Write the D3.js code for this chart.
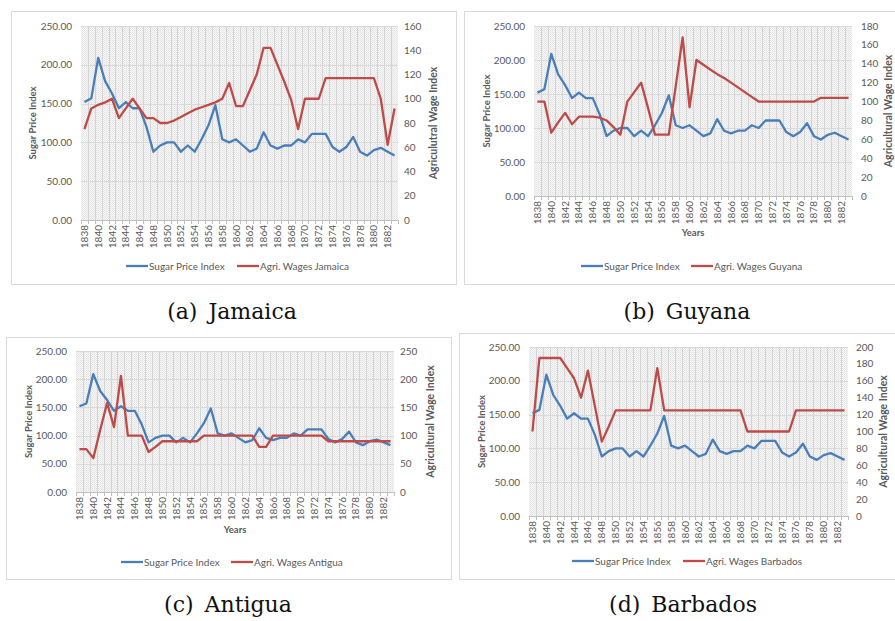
<!DOCTYPE html>
<html lang="en">
<head>
    <meta charset="UTF-8">
    <title>Sugar Price Index and Agricultural Wages</title>
    <script src="https://d3js.org/d3.v7.min.js"></script>
    <style>
        body {
            margin: 0;
            background: white;
        }

        .tick-label {
            font-family: Lato, sans-serif;
            font-size: 10px;
            fill: #595959;
        }

        .axis-title {
            font-family: Lato, sans-serif;
            font-size: 9.5px;
            font-weight: bold;
            fill: #595959;
        }

        .legend-label {
            font-family: Lato, sans-serif;
            font-size: 10px;
            fill: #595959;
        }

        .caption {
            font-family: "DejaVu Serif", serif;
            font-size: 22px;
            word-spacing: 4px;
            fill: #111;
        }
    </style>
</head>
<body>
    <div id="chart"></div>

    <script>
        // Years on the category axis
        const years = [1838, 1839, 1840, 1841, 1842, 1843, 1844, 1845, 1846, 1847,
            1848, 1849, 1850, 1851, 1852, 1853, 1854, 1855, 1856, 1857,
            1858, 1859, 1860, 1861, 1862, 1863, 1864, 1865, 1866, 1867,
            1868, 1869, 1870, 1871, 1872, 1873, 1874, 1875, 1876, 1877,
            1878, 1879, 1880, 1881, 1882, 1883];

        // Sugar price index (same series in every panel)
        const sugarIndex = [152, 157, 209, 179, 163, 144, 152, 144, 144, 120,
            88, 96, 100, 100, 88, 96, 88, 104, 122, 148,
            104, 100, 104, 96, 88, 92, 113, 96, 92, 96,
            96, 104, 100, 111, 111, 111, 94, 88, 94, 107,
            88, 83, 90, 93, 88, 83];

        const wagesJamaica = [75, 92, 95, 97, 100, 84, 92, 100, 92, 84,
            84, 80, 80, 82, 85, 88, 91, 93, 95, 97,
            100, 113, 94, 94, 107, 120, 142, 142, 128, 114,
            99, 75, 100, 100, 100, 117, 117, 117, 117, 117,
            117, 117, 117, 100, 62, 92];

        const wagesGuyana = [100, 100, 67, 78, 88, 76, 84, 84, 84, 83,
            80, 73, 65, 100, 110, 120, 93, 65, 65, 65,
            116, 168, 94, 144, 139, 134, 129, 125, 120, 115,
            110, 105, 100, 100, 100, 100, 100, 100, 100, 100,
            100, 104, 104, 104, 104, 104];

        const wagesAntigua = [76, 76, 60, 110, 158, 115, 206, 100, 100, 100,
            71, 80, 90, 90, 90, 90, 90, 90, 100, 100,
            100, 100, 100, 100, 100, 100, 80, 80, 100, 100,
            100, 100, 100, 100, 100, 100, 90, 90, 90, 90,
            90, 90, 90, 90, 90, 90];

        const wagesBarbados = [100, 187, 187, 187, 187, 175, 163, 140, 172, 130,
            88, 106, 125, 125, 125, 125, 125, 125, 175, 125,
            125, 125, 125, 125, 125, 125, 125, 125, 125, 125,
            125, 100, 100, 100, 100, 100, 100, 100, 125, 125,
            125, 125, 125, 125, 125, 125];

        const leftTicks = [0, 50, 100, 150, 200, 250];

        const blue = '#4a7ebb';
        const red = '#be4b48';
        const gridColor = '#d9d9d9';

        const svg = d3.select('#chart')
            .append('svg')
            .attr('width', 895)
            .attr('height', 621);

        svg.append('rect').attr('width', 895).attr('height', 621).attr('fill', 'white');

        // fine dotted fill used by the plot areas
        const pattern = svg.append('defs')
            .append('pattern')
            .attr('id', 'dots')
            .attr('width', 2)
            .attr('height', 2)
            .attr('patternUnits', 'userSpaceOnUse');
        pattern.append('rect').attr('width', 2).attr('height', 2).attr('fill', '#f8f8f8');
        pattern.append('rect').attr('width', 1).attr('height', 1).attr('fill', '#e0e0e0');
        pattern.append('rect').attr('x', 1).attr('y', 1).attr('width', 1).attr('height', 1).attr('fill', '#e8e8e8');

        const panels = [
            {
                wages: wagesJamaica, label: 'Agri. Wages Jamaica', caption: '(a) Jamaica',
                box: [11, 11, 445, 273], plot: {l: 81, r: 398, t: 26, b: 220},
                rightMax: 160, rightStep: 20, rightTitle: 'Agriculutral Wage Index',
                leftTitleX: 33, rightTitleX: 433, rightLabelX: 404,
                legendY: 266, legendX: [126, 237], yearsY: null,
                captionX: 232, captionY: 319
            },
            {
                wages: wagesGuyana, label: 'Agri. Wages Guyana', caption: '(b) Guyana',
                box: [464, 11, 445, 273], plot: {l: 534, r: 852, t: 26, b: 196},
                rightMax: 180, rightStep: 20, rightTitle: 'Agricultural Wage Index',
                leftTitleX: 487, rightTitleX: 888, rightLabelX: 861,
                legendY: 266, legendX: [581, 691], yearsY: 232,
                captionX: 687, captionY: 319
            },
            {
                wages: wagesAntigua, label: 'Agri. Wages Antigua', caption: '(c) Antigua',
                box: [6, 337, 445, 242], plot: {l: 76, r: 394, t: 351, b: 492},
                rightMax: 250, rightStep: 50, rightTitle: 'Agricultural Wage Index',
                leftTitleX: 29, rightTitleX: 430, rightLabelX: 400,
                legendY: 562, legendX: [121, 231], yearsY: 529,
                captionX: 228, captionY: 612
            },
            {
                wages: wagesBarbados, label: 'Agri. Wages Barbados', caption: '(d) Barbados',
                box: [459, 333, 445, 246], plot: {l: 529, r: 848, t: 347, b: 516},
                rightMax: 200, rightStep: 20, rightTitle: 'Agricultural Wage Index',
                leftTitleX: 482, rightTitleX: 883, rightLabelX: 856,
                legendY: 561, legendX: [572, 683], yearsY: null,
                captionX: 683, captionY: 612
            }
        ];

        panels.forEach(drawPanel);

        function drawPanel(p) {
            const g = svg.append('g');
            const {l, r, t, b} = p.plot;

            // chart border
            g.append('rect')
                .attr('x', p.box[0] + 0.5).attr('y', p.box[1] + 0.5)
                .attr('width', p.box[2]).attr('height', p.box[3])
                .attr('fill', 'white').attr('stroke', gridColor);

            const x = d3.scaleBand().domain(years).range([l, r]);
            const yLeft = d3.scaleLinear().domain([0, 250]).range([b, t]);
            const yRight = d3.scaleLinear().domain([0, p.rightMax]).range([b, t]);
            const rightTicks = d3.range(0, p.rightMax + 1, p.rightStep);

            g.append('rect')
                .attr('x', l).attr('y', t).attr('width', r - l).attr('height', b - t)
                .attr('fill', 'url(#dots)');

            // vertical gridlines at category boundaries
            g.append('g').selectAll('line')
                .data(years.slice(1))
                .join('line')
                .attr('x1', d => Math.round(x(d)) + 0.5).attr('x2', d => Math.round(x(d)) + 0.5)
                .attr('y1', t).attr('y2', b)
                .attr('stroke', '#d4d4d4').attr('stroke-width', 1);

            // horizontal gridlines
            g.append('g').selectAll('line')
                .data(leftTicks)
                .join('line')
                .attr('x1', l).attr('x2', r)
                .attr('y1', d => Math.round(yLeft(d)) + 0.5).attr('y2', d => Math.round(yLeft(d)) + 0.5)
                .attr('stroke', gridColor).attr('stroke-width', 1);

            // category axis with small ticks
            g.append('line')
                .attr('x1', l).attr('x2', r).attr('y1', b + 0.5).attr('y2', b + 0.5)
                .attr('stroke', '#bfbfbf');
            g.append('g').selectAll('line')
                .data(years.concat([null]))
                .join('line')
                .attr('x1', (d, i) => Math.round(l + i * x.step()) + 0.5)
                .attr('x2', (d, i) => Math.round(l + i * x.step()) + 0.5)
                .attr('y1', b).attr('y2', b + 4)
                .attr('stroke', '#bfbfbf');

            // year labels, every second year, rotated
            g.append('g').selectAll('text')
                .data(years.filter((d, i) => i % 2 === 0))
                .join('text')
                .attr('class', 'tick-label')
                .attr('transform', d => `translate(${x(d) + x.bandwidth() / 2 + 3.5},${b + 5}) rotate(-90)`)
                .attr('text-anchor', 'end')
                .text(d => d);

            // left tick labels
            g.append('g').selectAll('text')
                .data(leftTicks)
                .join('text')
                .attr('class', 'tick-label')
                .attr('x', l - 9)
                .attr('y', d => yLeft(d) + 3.5)
                .attr('text-anchor', 'end')
                .text(d3.format('.2f'));

            // right tick labels
            g.append('g').selectAll('text')
                .data(rightTicks)
                .join('text')
                .attr('class', 'tick-label')
                .attr('x', p.rightLabelX)
                .attr('y', d => yRight(d) + 3.5)
                .text(d => d);

            // axis titles
            const midY = (t + b) / 2;
            g.append('text')
                .attr('class', 'axis-title')
                .attr('transform', `translate(${p.leftTitleX + 3},${midY}) rotate(-90)`)
                .attr('text-anchor', 'middle')
                .text('Sugar Price Index');
            g.append('text')
                .attr('class', 'axis-title')
                .attr('transform', `translate(${p.rightTitleX + 4},${midY}) rotate(-90)`)
                .attr('text-anchor', 'middle')
                .style('font-size', '10.5px')
                .text(p.rightTitle);
            if (p.yearsY) {
                g.append('text')
                    .attr('class', 'axis-title')
                    .attr('x', (l + r) / 2)
                    .attr('y', p.yearsY + 3.5)
                    .attr('text-anchor', 'middle')
                    .text('Years');
            }

            // series lines
            const sugarLine = d3.line()
                .x((d, i) => x(years[i]) + x.bandwidth() / 2)
                .y(d => yLeft(d));
            const wageLine = d3.line()
                .x((d, i) => x(years[i]) + x.bandwidth() / 2)
                .y(d => yRight(d));

            g.append('path')
                .datum(sugarIndex)
                .attr('d', sugarLine)
                .attr('fill', 'none')
                .attr('stroke', blue)
                .attr('stroke-width', 2.3)
                .attr('stroke-linejoin', 'round');
            g.append('path')
                .datum(p.wages)
                .attr('d', wageLine)
                .attr('fill', 'none')
                .attr('stroke', red)
                .attr('stroke-width', 2.3)
                .attr('stroke-linejoin', 'round');

            // legend
            const items = [
                {name: 'Sugar Price Index', color: blue},
                {name: p.label, color: red}
            ];
            items.forEach((it, i) => {
                const lx = p.legendX[i];
                g.append('line')
                    .attr('x1', lx).attr('x2', lx + 22)
                    .attr('y1', p.legendY).attr('y2', p.legendY)
                    .attr('stroke', it.color).attr('stroke-width', 2.3);
                g.append('text')
                    .attr('class', 'legend-label')
                    .attr('x', lx + 23)
                    .attr('y', p.legendY + 3.5)
                    .text(it.name);
            });

            // caption below the chart
            svg.append('text')
                .attr('class', 'caption')
                .attr('x', p.captionX)
                .attr('y', p.captionY)
                .attr('text-anchor', 'middle')
                .text(p.caption);
        }
    </script>
</body>
</html>
